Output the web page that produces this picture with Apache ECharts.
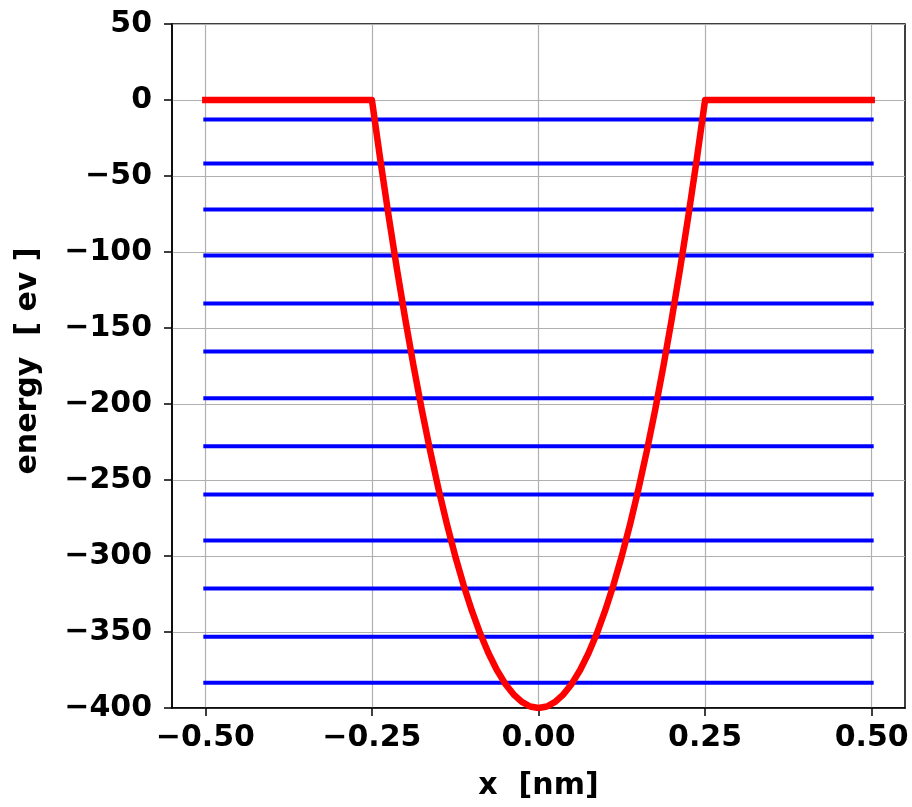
<!DOCTYPE html>
<html><head><meta charset="utf-8">
<script src="https://cdn.jsdelivr.net/npm/echarts@6/dist/echarts.min.js"></script>
<style>html,body{margin:0;padding:0;background:#fff}#c{width:912px;height:807px}</style>
</head><body><div id="c"></div>
<script>
// Tick values
const xTicks = [-0.5, -0.25, 0, 0.25, 0.5];
const yMin = -400, yMax = 50, yStep = 50;
// Energy levels (eV), each spans the x range below
const levelEnergies = [-12.8, -41.8, -72.0, -102.3, -133.9, -165.5, -196.2, -227.8, -259.5, -289.8, -321.4, -353.2, -383.4];
const levelXRange = [-0.5, 0.5];
// Potential well (red)
const potentialX = [-0.5, -0.25, -0.2375, -0.225, -0.2125, -0.2, -0.1875, -0.175, -0.1625, -0.15, -0.1375, -0.125, -0.1125, -0.1, -0.0875, -0.075, -0.0625, -0.05, -0.0375, -0.025, -0.0125, 0,
  0.0125, 0.025, 0.0375, 0.05, 0.0625, 0.075, 0.0875, 0.1, 0.1125, 0.125, 0.1375, 0.15, 0.1625, 0.175, 0.1875, 0.2, 0.2125, 0.225, 0.2375, 0.25, 0.5];
const potentialV = [0, 0, -39, -76, -111, -144, -175, -204, -231, -256, -279, -300, -319, -336, -351, -364, -375, -384, -391, -396, -399, -400,
  -399, -396, -391, -384, -375, -364, -351, -336, -319, -300, -279, -256, -231, -204, -175, -144, -111, -76, -39, 0, 0];

const FONT = 'DejaVu Sans';
const minus = s => s.replace('-', '\u2212');

const series = levelEnergies.map(e => ({
  type: 'line', symbol: 'none', silent: true, z: 2,
  data: [[levelXRange[0], e], [levelXRange[1], e]],
  lineStyle: { color: '#0000ff', width: 4, cap: 'square' }
}));
series.push({
  type: 'line', symbol: 'none', silent: true, z: 3,
  data: potentialX.map((x, i) => [x, potentialV[i]]),
  lineStyle: { color: '#ff0000', width: 6.5, join: 'round', cap: 'square' }
});

const chart = echarts.init(document.getElementById('c'), null, { renderer: 'canvas' });
chart.setOption({
  animation: false,
  backgroundColor: '#fff',
  grid: { left: 172, right: 7, top: 24, bottom: 99, show: true, borderColor: '#000', borderWidth: 1.5, backgroundColor: 'transparent' },
  xAxis: {
    type: 'value', min: -0.55, max: 0.55,
    name: 'x  [nm]', nameLocation: 'middle', nameGap: 63,
    nameTextStyle: { fontFamily: FONT, fontWeight: 'bold', fontSize: 30, color: '#000' },
    axisLine: { show: true, onZero: false, lineStyle: { color: '#000', width: 1.5 } },
    axisTick: { show: true, customValues: xTicks, length: 8, inside: false, lineStyle: { color: '#000', width: 1.5 } },
    axisLabel: { customValues: xTicks, margin: 15, fontFamily: FONT, fontWeight: 'bold', fontSize: 30, color: '#000', formatter: v => minus(v.toFixed(2)) },
    splitLine: { show: true, customValues: xTicks, lineStyle: { color: '#b0b0b0', width: 1.2 } }
  },
  yAxis: {
    type: 'value', min: yMin, max: yMax, interval: yStep,
    name: 'energy  [ ev ]', nameLocation: 'middle', nameGap: 129, nameRotate: 90,
    nameTextStyle: { fontFamily: FONT, fontWeight: 'bold', fontSize: 30, color: '#000', padding: [0, 0, 0, 10] },
    axisLine: { show: true, onZero: false, lineStyle: { color: '#000', width: 1.5 } },
    axisTick: { show: true, length: 8, inside: false, lineStyle: { color: '#000', width: 1.5 } },
    axisLabel: { margin: 20, fontFamily: FONT, fontWeight: 'bold', fontSize: 30, color: '#000', formatter: v => minus(String(v)) },
    splitLine: { show: true, lineStyle: { color: '#b0b0b0', width: 1.2 } }
  },
  series: series
});
</script>
</body></html>
